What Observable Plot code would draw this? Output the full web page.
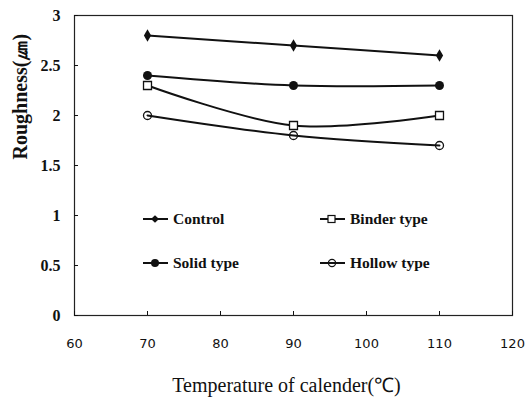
<!DOCTYPE html>
<html><head><meta charset="utf-8">
<script src="https://cdn.jsdelivr.net/npm/d3@7"></script>
<script src="https://cdn.jsdelivr.net/npm/@observablehq/plot@0.6"></script>
<style>
body{margin:0;background:#fff;}
#wrap{position:relative;width:525px;height:408px;}
.leg{position:absolute;font-family:"Liberation Serif",serif;font-weight:bold;font-size:15.5px;color:#111;display:flex;align-items:center;}
.leg svg{margin-right:4px;}
</style></head>
<body><div id="wrap"></div>
<script>
const temps = [70, 90, 110];
const control = [2.8, 2.7, 2.6];
const binder = [2.3, 1.9, 2.0];
const solid = [2.4, 2.3, 2.3];
const hollow = [2.0, 1.8, 1.7];
const seriesNames = ["Control", "Binder type", "Solid type", "Hollow type"];
const xTicks = [60, 70, 80, 90, 100, 110, 120];
const yTicks = [0, 0.5, 1, 1.5, 2, 2.5, 3];

const toRows = (name, vals) => temps.map((t, i) => ({series: name, x: t, y: vals[i]}));
const cRows = toRows("Control", control);
const bRows = toRows("Binder type", binder);
const sRows = toRows("Solid type", solid);
const hRows = toRows("Hollow type", hollow);

const line = (rows) => Plot.line(rows, {x: "x", y: "y", stroke: "#111", strokeWidth: 2, curve: "catmull-rom"});

const chart = Plot.plot({
  width: 525, height: 408,
  marginLeft: 74, marginRight: 13, marginTop: 15, marginBottom: 93,
  x: {domain: [60, 120]},
  y: {domain: [0, 3]},
  style: {fontFamily: "'DejaVu Sans', sans-serif", fontSize: "13px", color: "#111"},
  marks: [
    Plot.frame({stroke: "#222", strokeWidth: 1.2}),
    Plot.axisX({ticks: xTicks, tickSize: -4, tickPadding: 27, tickFormat: d => String(d), fontSize: 13, label: null}),
    Plot.axisY({ticks: yTicks, tickSize: -4, tickPadding: 18, tickFormat: d => String(d), fontSize: 16, fontWeight: "bold", fontFamily: "'Liberation Serif', serif", label: null}),
    Plot.text(["Temperature of calender(℃)"], {frameAnchor: "bottom", dy: 70, lineAnchor: "middle", dx: -7, fontSize: 20, fontFamily: "'Liberation Serif', serif"}),
    Plot.text(["Roughness(㎛)"], {frameAnchor: "left", dx: -54, dy: -6, rotate: -90, fontSize: 20, fontWeight: "bold", fontFamily: "'Liberation Serif', serif"}),
    line(cRows), line(bRows), line(sRows), line(hRows),
    Plot.dot(cRows, {x: "x", y: "y", symbol: "diamond", fill: "#111", r: 3.8}),
    Plot.dot(sRows, {x: "x", y: "y", symbol: "circle", fill: "#111", r: 4.5}),
    Plot.dot(bRows, {x: "x", y: "y", symbol: "square", fill: "#fff", stroke: "#111", strokeWidth: 1.3, r: 4.5}),
    Plot.dot(hRows, {x: "x", y: "y", symbol: "circle", fill: "none", stroke: "#111", strokeWidth: 1.3, r: 4})
  ]
});
const wrap = document.getElementById("wrap");
wrap.appendChild(chart);

const symSvg = {
  "Control": '<path d="M12,-3.8L16,0L12,3.8L8,0Z" fill="#111"/>',
  "Binder type": '<rect x="8" y="-3.5" width="7" height="7" fill="#fff" stroke="#111" stroke-width="1.2"/>',
  "Solid type": '<circle cx="12" cy="0" r="4" fill="#111"/>',
  "Hollow type": '<circle cx="12" cy="0" r="3.6" fill="none" stroke="#111" stroke-width="1.2"/>'
};
const legPos = [[143, 219], [320, 219], [143, 263], [320, 263]];
seriesNames.forEach((n, i) => {
  const d = document.createElement("div");
  d.className = "leg";
  d.style.left = legPos[i][0] + "px";
  d.style.top = (legPos[i][1] - 10) + "px";
  d.style.height = "20px";
  d.innerHTML = '<svg width="26" height="12" viewBox="0 -6 26 12"><line x1="0" x2="25" y1="0" y2="0" stroke="#111" stroke-width="2"/>' + symSvg[n] + '</svg><span>' + n + '</span>';
  wrap.appendChild(d);
});
</script></body></html>
